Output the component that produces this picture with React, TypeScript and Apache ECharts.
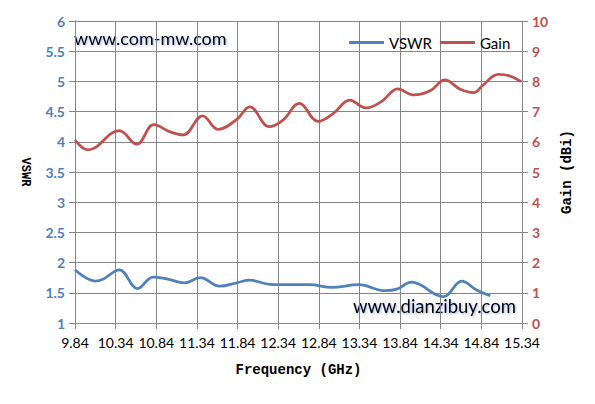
import React, { useEffect, useRef } from "react";
import * as echarts from "echarts";

const FREQ_OFFSET = 9.84;
const xTickStep = 0.5;
const xSpan = 5.5;

const gainFreq = [9.84, 10.0, 10.385, 10.6, 10.81, 11.01, 11.17, 11.41, 11.6, 11.83, 11.99, 12.23, 12.4, 12.6, 12.83, 13.02, 13.22, 13.42, 13.61, 13.81, 14.01, 14.21, 14.39, 14.58, 14.75, 14.86, 15.05, 15.19, 15.33];
const gainValues = [6.06, 5.73, 6.37, 5.92, 6.57, 6.33, 6.23, 6.86, 6.41, 6.74, 7.16, 6.5, 6.72, 7.27, 6.68, 6.94, 7.38, 7.12, 7.33, 7.75, 7.55, 7.69, 8.05, 7.74, 7.63, 7.88, 8.23, 8.18, 7.99];

const vswrFreq = [9.84, 10.09, 10.19, 10.385, 10.61, 10.8, 10.97, 11.19, 11.38, 11.62, 11.83, 11.99, 12.24, 12.485, 12.73, 13.0, 13.33, 13.655, 13.8, 13.98, 14.37, 14.6, 14.78, 14.95];
const vswrValues = [1.88, 1.695, 1.73, 1.88, 1.57, 1.76, 1.73, 1.665, 1.75, 1.61, 1.665, 1.71, 1.64, 1.634, 1.634, 1.59, 1.634, 1.535, 1.56, 1.675, 1.436, 1.695, 1.546, 1.45];

const seriesNames = ["VSWR", "Gain"];
const xAxisName = "Frequency (GHz)";
const leftAxisName = "VSWR";
const rightAxisName = "Gain (dBi)";
const watermarkTop = "www.com-mw.com";
const watermarkBottom = "www.dianzibuy.com";

const BLUE = "#4F81BD";
const RED = "#C0504D";
const GRID = "#868686";
const FONT = "Lato, 'Open Sans', sans-serif";
const MONO = "'Liberation Mono', 'DejaVu Sans Mono', monospace";

export default function App() {
  const ref = useRef<HTMLDivElement>(null);

  useEffect(() => {
    if (!ref.current) return;
    const chart = echarts.init(ref.current, undefined, { renderer: "svg" });
    const toPts = (f: number[], v: number[]) => f.map((x, i) => [+(x - FREQ_OFFSET).toFixed(4), v[i]]);

    chart.setOption({
      animation: false,
      backgroundColor: "#fff",
      grid: { left: 75, right: 73, top: 21, bottom: 81 },
      legend: {
        left: 344,
        top: 30,
        icon: "rect",
        itemWidth: 35,
        itemHeight: 3,
        itemGap: 8,
        data: seriesNames,
        textStyle: { color: "#000", fontFamily: FONT, fontSize: 15 },
      },
      xAxis: {
        type: "value",
        min: 0,
        max: xSpan,
        interval: xTickStep,
        name: xAxisName,
        nameLocation: "middle",
        nameGap: 40,
        nameTextStyle: { color: "#000", fontFamily: MONO, fontSize: 14, fontWeight: "bold" },
        axisLine: { show: true, lineStyle: { color: GRID, width: 1 } },
        axisTick: { show: true, length: 6, lineStyle: { color: GRID } },
        axisLabel: {
          color: "#000",
          fontFamily: FONT,
          fontSize: 14,
          margin: 12,
          formatter: (v: number) => (v + FREQ_OFFSET).toFixed(2),
        },
        splitLine: { show: true, lineStyle: { color: GRID, width: 1 } },
      },
      yAxis: [
        {
          type: "value",
          min: 1,
          max: 6,
          interval: 0.5,
          position: "left",
          name: leftAxisName,
          nameLocation: "middle",
          nameGap: 44,
          nameRotate: -90,
          nameTextStyle: { color: "#000", fontFamily: MONO, fontSize: 12, fontWeight: "bold" },
          axisLine: { show: true, lineStyle: { color: GRID, width: 1 } },
          axisTick: { show: true, length: 6, lineStyle: { color: GRID } },
          axisLabel: { color: BLUE, fontFamily: FONT, fontSize: 14, fontWeight: "bold", margin: 10 },
          splitLine: { show: true, lineStyle: { color: GRID, width: 1 } },
        },
        {
          type: "value",
          min: 0,
          max: 10,
          interval: 1,
          position: "right",
          name: rightAxisName,
          nameLocation: "middle",
          nameGap: 38,
          nameRotate: 90,
          nameTextStyle: { color: "#000", fontFamily: MONO, fontSize: 14, fontWeight: "bold" },
          axisLine: { show: true, lineStyle: { color: GRID, width: 1 } },
          axisTick: { show: true, length: 6, lineStyle: { color: GRID } },
          axisLabel: { color: RED, fontFamily: FONT, fontSize: 14, fontWeight: "bold", margin: 10 },
          splitLine: { show: false },
        },
      ],
      graphic: [
        {
          type: "text",
          left: 74,
          top: 29,
          style: {
            text: watermarkTop,
            fill: "#000",
            font: `18px ${FONT}`,
            textShadowColor: "rgba(40,80,160,0.45)",
            textShadowBlur: 2,
            textShadowOffsetX: 1,
            textShadowOffsetY: 1,
          },
        },
        {
          type: "text",
          left: 353,
          top: 296,
          style: {
            text: watermarkBottom,
            fill: "#000",
            font: `18.5px ${FONT}`,
            textShadowColor: "rgba(40,80,160,0.45)",
            textShadowBlur: 2,
            textShadowOffsetX: 1,
            textShadowOffsetY: 1,
          },
        },
      ],
      series: [
        {
          name: seriesNames[0],
          type: "line",
          yAxisIndex: 0,
          smooth: 0.4,
          symbol: "none",
          lineStyle: { color: BLUE, width: 2.75 },
          itemStyle: { color: BLUE },
          data: toPts(vswrFreq, vswrValues),
        },
        {
          name: seriesNames[1],
          type: "line",
          yAxisIndex: 1,
          smooth: 0.4,
          symbol: "none",
          lineStyle: { color: RED, width: 2.75 },
          itemStyle: { color: RED },
          data: toPts(gainFreq, gainValues),
        },
      ],
    });

    return () => chart.dispose();
  }, []);

  return <div ref={ref} style={{ position: "fixed", left: 0, top: 0, width: 595, height: 404 }} />;
}
